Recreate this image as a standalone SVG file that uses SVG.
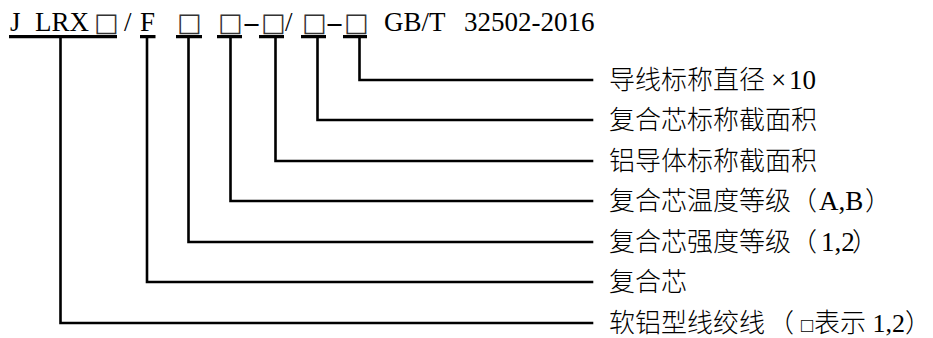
<svg xmlns="http://www.w3.org/2000/svg" width="933" height="338" viewBox="0 0 933 338">
<style>
text{font-family:"Liberation Serif","Noto Sans CJK SC",serif;font-size:26px;fill:#000}
.l{font-size:27px}
.cj{font-family:"Noto Sans CJK SC",sans-serif;font-weight:300}
.sq{font-family:"DejaVu Sans",sans-serif;font-size:26px;fill:#333}
.s2{font-size:20px}
.u{stroke:#000;stroke-width:3.2;fill:none}
.c{stroke:#000;stroke-width:2.6;fill:none;stroke-linecap:square}
</style>
<rect width="933" height="338" fill="#fff"/>
<g id="designation">
<text y="31" class="l"><tspan x="10">J</tspan><tspan x="35">LRX</tspan><tspan class="sq" x="94">□</tspan><tspan x="124">/</tspan><tspan x="140">F</tspan><tspan class="sq" x="177">□</tspan><tspan class="sq" x="218">□</tspan><tspan class="sq" x="261">□</tspan><tspan x="285">/</tspan><tspan class="sq" x="302">□</tspan><tspan class="sq" x="344">□</tspan><tspan x="384">GB/T</tspan><tspan x="464">32502-2016</tspan></text>
<text class="l" transform="translate(242.6 31) scale(2 1)">-</text>
<text class="l" transform="translate(325.6 31) scale(2 1)">-</text>
<path class="u" d="M9 36.7H117M140 36.7H155.5M176 36.7H202M217 36.7H242M259 36.7H284M301 36.7H326M343 36.7H367"/>
</g>
<g id="connectors">
<path class="c" d="M359.5 38V80H592"/>
<path class="c" d="M317.5 38V120H592"/>
<path class="c" d="M275.5 38V161H592"/>
<path class="c" d="M230.5 38V201H592"/>
<path class="c" d="M188.5 38V242H592"/>
<path class="c" d="M147 38V282H592"/>
<path class="c" d="M60.5 38V323H592"/>
</g>
<g id="n1"><text x="609" y="89"><tspan class="cj">导线标称直径</tspan><tspan class="l" x="771">×</tspan><tspan class="l" x="789">10</tspan></text></g>
<g id="n2"><text x="609" y="129" class="cj">复合芯标称截面积</text></g>
<g id="n3"><text x="609" y="170" class="cj">铝导体标称截面积</text></g>
<g id="n4"><text x="609" y="210"><tspan class="cj">复合芯温度等级（</tspan><tspan class="l" x="819">A,B</tspan><tspan class="cj" x="865">）</tspan></text></g>
<g id="n5"><text x="609" y="251"><tspan class="cj">复合芯强度等级（</tspan><tspan class="l" x="821">1,2</tspan><tspan class="cj" x="852">）</tspan></text></g>
<g id="n6"><text x="609" y="291" class="cj">复合芯</text></g>
<g id="n7"><text x="609" y="332"><tspan class="cj">软铝型线绞线</tspan><tspan class="cj" x="768">（</tspan><tspan class="s2" x="801">□</tspan><tspan class="cj" x="814">表示</tspan><tspan> 1,2</tspan><tspan class="cj" x="905">）</tspan></text></g>
</svg>
